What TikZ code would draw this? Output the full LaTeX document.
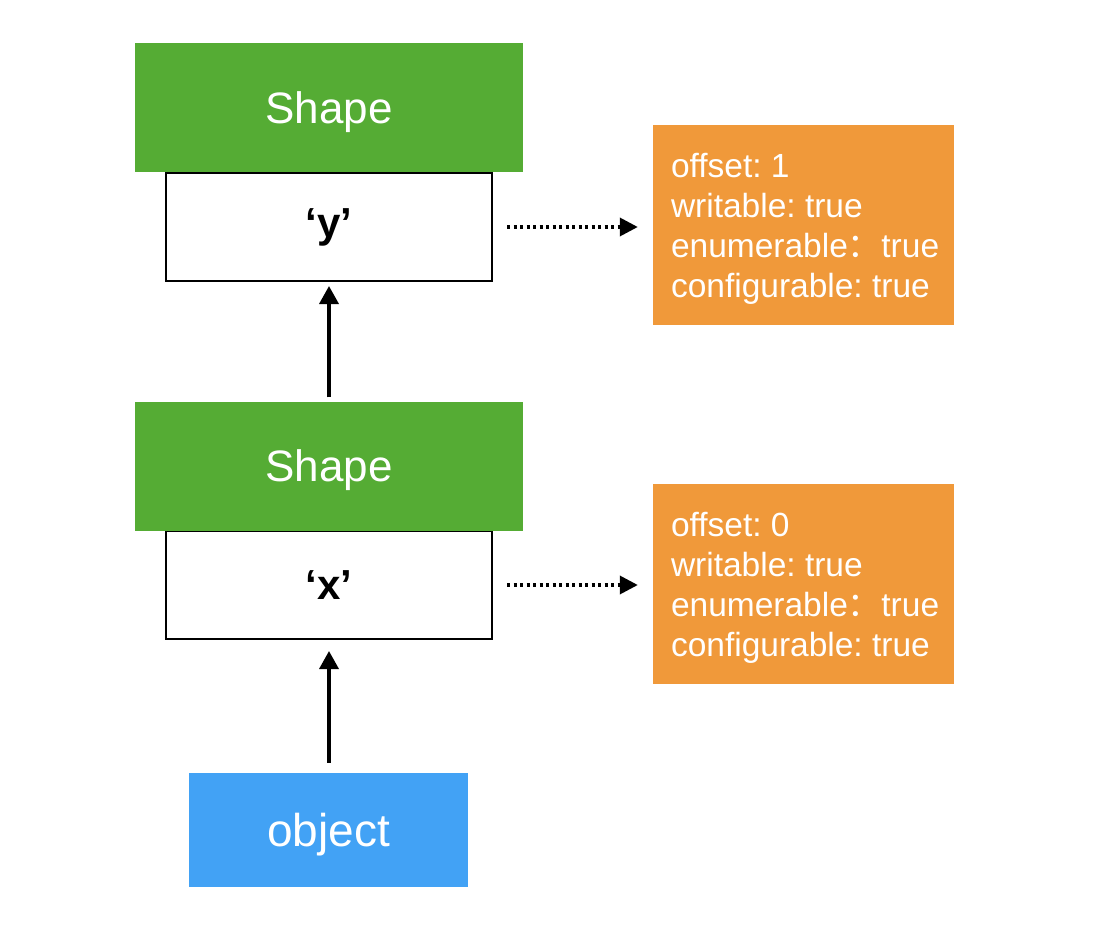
\documentclass[tikz,border=0pt]{standalone}
\usepackage{fontspec}
\setmainfont{Liberation Sans}
\newfontfamily\cjk{Noto Sans CJK SC}
\usetikzlibrary{arrows.meta}
\definecolor{shapegreen}{HTML}{55AC34}
\definecolor{proporange}{HTML}{F0993A}
\definecolor{objblue}{HTML}{42A2F5}
\frenchspacing
\begin{document}
\begin{tikzpicture}[x=1pt,y=-1pt,
  greenbox/.style={rectangle, fill=shapegreen, draw=none, minimum width=388pt, minimum height=129pt, inner sep=0pt, text=white, font=\fontsize{44}{50}\selectfont, text depth=0pt},
  keybox/.style={rectangle, fill=white, draw=black, line width=2pt, minimum width=326pt, minimum height=108pt, inner sep=0pt, font=\bfseries\fontsize{42}{48}\selectfont},
  orangebox/.style={rectangle, fill=proporange, draw=none, minimum width=301pt, minimum height=200pt, inner sep=0pt},
  proptext/.style={inner sep=0pt, text=white, align=left, font=\fontsize{33.5}{40}\selectfont},
  objbox/.style={rectangle, fill=objblue, draw=none, minimum width=279pt, minimum height=114pt, inner sep=0pt, text=white, font=\fontsize{46}{52}\selectfont, text depth=0pt},
  solidarrow/.style={line width=3.5pt, -{Triangle[length=18pt,width=19pt]}},
  dotarrow/.style={line width=3.5pt, dash pattern=on 3pt off 3.5pt, -{Triangle[length=18pt,width=18pt]}}
]
\useasboundingbox (0,0) rectangle (1102,944);
% upper group
\node[keybox] (keyY) at (329,227) {‘y’};
\node[greenbox] (shapeY) at (329,107.5) {Shape};
\node[orangebox] (propY) at (803.5,225) {};
\node[proptext, anchor=west] (propYtext) at ([xshift=18pt,yshift=-4pt]propY.west) {offset: 1\\writable: true\\enumerable{\cjk ：}true\\configurable: true};
% lower group
\node[keybox] (keyX) at (329,585) {‘x’};
\node[greenbox] (shapeX) at (329,466) {Shape};
\node[orangebox] (propX) at (803.5,584) {};
\node[proptext, anchor=west] (propXtext) at ([xshift=18pt,yshift=-4pt]propX.west) {offset: 0\\writable: true\\enumerable{\cjk ：}true\\configurable: true};
% object
\node[objbox] (obj) at (328.5,830) {object};
% connectors
\draw[solidarrow, shorten <=4pt, shorten >=4pt] (shapeX.north) -- (keyY.south);
\draw[solidarrow, shorten <=10pt, shorten >=11pt] (obj.north -| keyX.south) -- (keyX.south);
\draw[dotarrow, shorten <=14pt, shorten >=15pt] (keyY.east) -- (propY.west |- keyY.east);
\draw[dotarrow, shorten <=14pt, shorten >=15pt] (keyX.east) -- (propX.west |- keyX.east);
\end{tikzpicture}
\end{document}
